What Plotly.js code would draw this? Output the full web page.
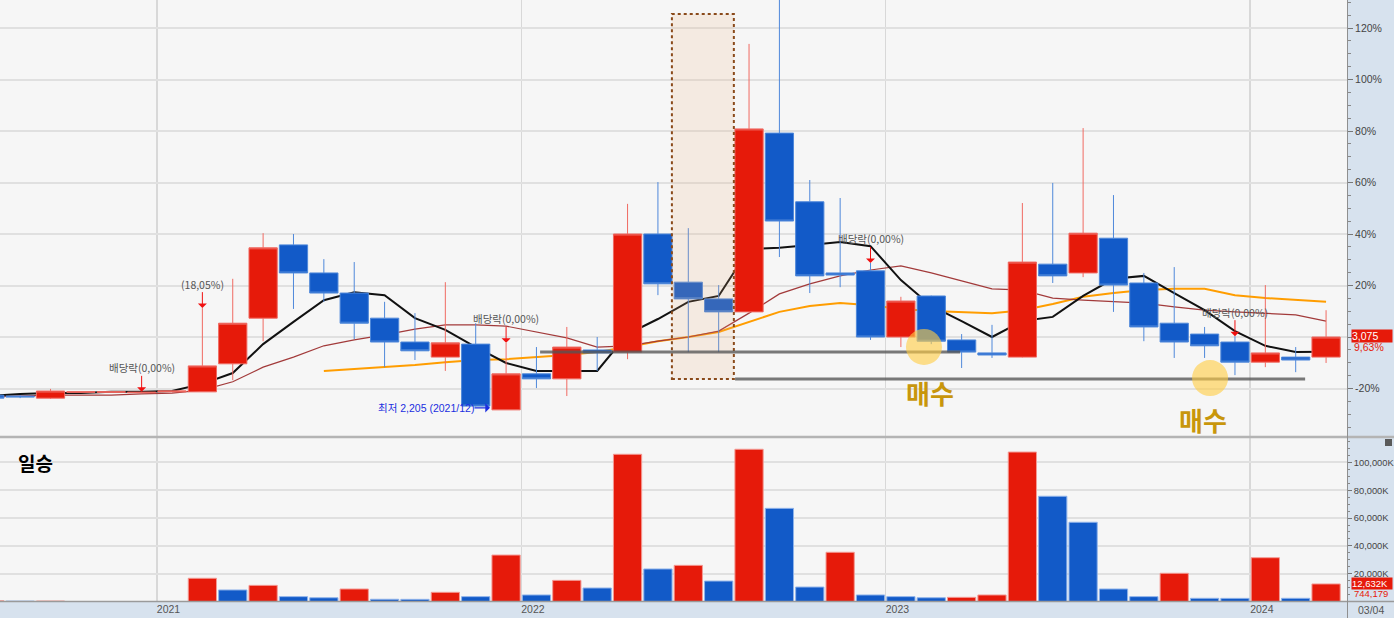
<!DOCTYPE html>
<html>
<head>
<meta charset="utf-8">
<script src="https://cdn.plot.ly/plotly-3.0.1.min.js"></script>
<style>
html,body{margin:0;padding:0;background:#d7e2ee;}
#chart{width:1394px;height:618px;}
</style>
</head>
<body>
<div id="chart"></div>
<script>
// ---------- DATA (monthly candles, KRW) ----------
const months = ['2020/07','2020/08','2020/09','2020/10','2020/11','2020/12',
  '2021/01','2021/02','2021/03','2021/04','2021/05','2021/06','2021/07','2021/08','2021/09','2021/10','2021/11','2021/12',
  '2022/01','2022/02','2022/03','2022/04','2022/05','2022/06','2022/07','2022/08','2022/09','2022/10','2022/11','2022/12',
  '2023/01','2023/02','2023/03','2023/04','2023/05','2023/06','2023/07','2023/08','2023/09','2023/10','2023/11','2023/12',
  '2024/01','2024/02','2024/03'];
const openPrices  = [2380,2370,2345,2415,2415,2410, 2420,2420,2755,3300,4175,3840,3600,3300,3015,2835,2990,2205,
  2635,2575,2920,2895,4305,3730,3530,3375,5510,4690,3840,3865, 3075,3565,3040,2885,2835,3945,3840,4255,3720,3240,3110,3015, 2775,2835,2835];
const highPrices  = [2405,2380,2455,2425,2420,2420, 2430,3420,3770,4315,4305,4005,3970,3495,3360,3730,3240,3005,
  2955,3195,3075,4665,4925,4375,3695,6575,7250,4950,4735,3960, 3555,3570,3110,3220,4675,4915,5570,4770,3840,3910,3195,3085, 3695,2955,3395];
const lowPrices   = [2335,2345,2335,2410,2415,2405, 2420,2420,2560,3025,3410,3495,3050,2715,2800,2670,2245,2205,
  2465,2370,2670,2810,3575,2895,2895,3370,4030,3600,3670,3040, 2955,2990,2705,2825,2830,3720,3790,3375,3025,2825,2825,2620, 2715,2655,2765];
const closePrices = [2345,2360,2430,2420,2420,2415, 2430,2730,3240,4140,3840,3600,3240,3015,2910,3005,2250,2635,
  2575,2955,2885,4305,3710,3530,3375,5560,4460,3805,3815,3075, 3505,3025,2895,2860,3970,3805,4315,3695,3195,3015,2970,2775, 2885,2800,3075];
// volume, thousands of shares
const volumesK = [450,300,350,0,0,0, 0,16700,8300,11600,3500,2700,9000,1600,1550,6600,3500,33400,
  4700,15200,9700,105900,23400,26000,14700,109500,67000,10400,35400,4700, 3500,2700,3000,4700,107500,75700,57000,9000,3500,20300,2300,2250, 31500,2300,12632];
// moving averages
const ma5  = [2370,2395,2405,2405,2420,2420, 2430,2515,2645,2990,3255,3515,3610,3575,3300,3160,2955,2765,
  2670,2670,2670,3110,3290,3495,3565,4125,4140,4175,4210,4160, 3755,3445,3265,3075,3265,3315,3565,3770,3805,3600,3395,3145, 2970,2895,2900];
const ma10 = [2360,2370,2380,2380,2380,2395, 2405,2440,2540,2715,2835,2970,3040,3100,3170,3220,3220,3205,
  3135,3065,2955,2970,3025,3075,3145,3360,3590,3710,3805,3875, 3925,3840,3745,3650,3635,3540,3515,3495,3480,3435,3395,3375, 3360,3340,3265];
const maLong = [null,null,null,null,null,null, null,null,null,null,null,2670,2695,2715,2740,2775,2800,2810,
  2835,2860,2895,2955,3025,3075,3135,3255,3375,3445,3480,3455, 3410,3385,3375,3360,3395,3470,3555,3600,3635,3650,3650,3575, 3540,3515,3495];
const basePrice = 3075;              // the % axis is relative to this price
const pctTicks = [-20,0,20,40,60,80,100,120];
const volTicks = [20000,40000,60000,80000,100000];
const eventMonths = ['2020/12','2021/02','2021/12','2022/12','2023/12'];
const eventLabels = ['배당락(0,00%)','(18,05%)','배당락(0,00%)','배당락(0,00%)','배당락(0,00%)'];
const lowMonth = '2021/12';
const lowLabel = '최저 2,205 (2021/12)';
const dayChangeLabel = '9,63%';
const amountLabel = '744,179';
const dateLabel = '03/04';

// ---------- BUILD ----------
const xs = months.map((m,i)=>i);
const RED='#e61a0a', BLUE='#125ac8';
const fontKo = 'Noto Sans CJK KR, Liberation Sans, sans-serif';
const fontNum = 'Liberation Sans, Noto Sans CJK KR, sans-serif';

const yearIdx = months.map((m,i)=>m.endsWith('/01')?i:null).filter(v=>v!==null);
const volColors = volumesK.map((v,i)=> (i===0 || v>volumesK[i-1]) ? RED : BLUE);
const volLine = volColors.map(c=> c===RED ? '#f49a94' : '#8fb3ea');
const yRange = [1892.8,7099.5];

const traces = [
  {type:'scatter', mode:'lines', x:xs, y:maLong, line:{color:'#ff9d00', width:2}, hoverinfo:'skip', xaxis:'x', yaxis:'y'},
  {type:'scatter', mode:'lines', x:xs, y:ma10, line:{color:'#a23a3a', width:1.2}, hoverinfo:'skip', xaxis:'x', yaxis:'y'},
  {type:'scatter', mode:'lines', x:xs, y:ma5, line:{color:'#111111', width:2}, hoverinfo:'skip', xaxis:'x', yaxis:'y'},
  {type:'candlestick', x:xs, open:openPrices, high:highPrices, low:lowPrices, close:closePrices,
   xaxis:'x', yaxis:'y3', whiskerwidth:0, hoverinfo:'skip',
   increasing:{fillcolor:RED, line:{color:'#f06a62', width:1}},
   decreasing:{fillcolor:BLUE, line:{color:'#4f88da', width:1}}},
  {type:'bar', x:xs, y:volumesK, xaxis:'x', yaxis:'y2', hoverinfo:'skip',
   marker:{color:volColors, line:{color:volLine, width:1}}}
];

const last = months.length-1;
const annotations = [];
eventMonths.forEach((m,k)=>{
  const i = months.indexOf(m);
  annotations.push({x:i, y:highPrices[i], xref:'x', yref:'y', text:eventLabels[k],
    showarrow:true, arrowhead:1, arrowsize:1.5, arrowwidth:1, arrowcolor:'#f01010', ax:0, ay:-24, standoff:0,
    font:{family:fontKo, size:10.5, color:'#555'}, borderpad:0});
});
const li = months.indexOf(lowMonth);
annotations.push({x:li-0.53, y:lowPrices[li], xref:'x', yref:'y', yshift:2, text:lowLabel,
  showarrow:true, arrowhead:1, arrowsize:1.3, arrowwidth:1.2, arrowcolor:'#1a2ee0', ax:-64, ay:0, standoff:0,
  font:{family:fontNum, size:10.5, color:'#1a2ee0'}, borderpad:0});
annotations.push({x:30.96, y:2418, xref:'x', yref:'y', text:'<b>매수</b>', showarrow:false,
  font:{family:fontKo, size:26, color:'#c8960c'}});
annotations.push({x:39.95, y:2084, xref:'x', yref:'y', text:'<b>매수</b>', showarrow:false,
  font:{family:fontKo, size:26, color:'#c8960c'}});
annotations.push({x:16/1394, y:(618-462)/618, xref:'paper', yref:'paper', xanchor:'left', yanchor:'middle',
  text:'<b>일승</b>', showarrow:false, font:{family:fontKo, size:19, color:'#000'}});
annotations.push({x:1351/1394, y:closePrices[last], xref:'paper', yref:'y', xanchor:'left', yanchor:'middle', yshift:1,
  text:closePrices[last].toLocaleString('en-US'), width:40, align:'left', showarrow:false, bgcolor:RED, borderpad:0,
  font:{family:fontNum, size:10.5, color:'#fff'}});
annotations.push({x:1352/1394, y:closePrices[last], xref:'paper', yref:'y', xanchor:'left', yanchor:'middle', yshift:-10,
  text:dayChangeLabel, showarrow:false, font:{family:fontNum, size:10.5, color:RED}});
annotations.push({x:1351/1394, y:volumesK[last], xref:'paper', yref:'y2', xanchor:'left', yanchor:'middle', yshift:0,
  text:volumesK[last].toLocaleString('en-US')+'K', width:40, align:'left', showarrow:false, bgcolor:RED, borderpad:0,
  font:{family:fontNum, size:9.5, color:'#fff'}});
annotations.push({x:1352/1394, y:volumesK[last], xref:'paper', yref:'y2', xanchor:'left', yanchor:'middle', yshift:-10,
  text:amountLabel, showarrow:false, font:{family:fontNum, size:9.5, color:RED}});
annotations.push({x:1356/1394, y:(618-610)/618, xref:'paper', yref:'paper', xanchor:'left', yanchor:'middle',
  text:dateLabel, showarrow:false, font:{family:fontNum, size:10.5, color:'#555'}});

const shapes = [
  {type:'rect', xref:'x', yref:'y', x0:22.46, x1:24.5, y0:2574, y1:6932, layer:'above',
   fillcolor:'rgba(236,176,120,0.16)', line:{color:'#8a4a1a', width:2, dash:'dot'}},
  {type:'line', xref:'x', yref:'y', x0:18.12, x1:31.95, y0:2896, y1:2896, layer:'above',
   line:{color:'rgba(85,85,85,0.78)', width:3}},
  {type:'line', xref:'x', yref:'y', x0:24.54, x1:43.31, y0:2574, y1:2574, layer:'above',
   line:{color:'rgba(85,85,85,0.78)', width:3}},
  {type:'circle', xref:'x', yref:'y', xsizemode:'pixel', ysizemode:'pixel', xanchor:30.76, yanchor:2956,
   x0:-18, x1:18, y0:-18, y1:18, layer:'above', fillcolor:'rgba(255,205,70,0.62)', line:{width:0}},
  {type:'circle', xref:'x', yref:'y', xsizemode:'pixel', ysizemode:'pixel', xanchor:40.18, yanchor:2585,
   x0:-18, x1:18, y0:-18, y1:18, layer:'above', fillcolor:'rgba(255,205,70,0.62)', line:{width:0}},
  // panel separator, bottom line, right axis line
  {type:'line', xref:'paper', yref:'paper', x0:0, x1:1, y0:(618-437)/618, y1:(618-437)/618, line:{color:'#b4b4b4', width:2.5}},
  {type:'line', xref:'paper', yref:'paper', x0:0, x1:1, y0:(618-601.5)/618, y1:(618-601.5)/618, line:{color:'#9a9a9a', width:1.5}},
  {type:'line', xref:'paper', yref:'paper', x0:1347.5/1394, x1:1347.5/1394, y0:0, y1:1, line:{color:'#8f8f8f', width:1}},
  {type:'rect', xref:'paper', yref:'paper', x0:1385/1394, x1:1392/1394, y0:(618-446)/618, y1:(618-439)/618,
   fillcolor:'#5a5a5a', line:{width:0}}
];

const layout = {
  width:1394, height:618,
  margin:{l:0, r:0, t:0, b:0, pad:0},
  paper_bgcolor:'#d7e2ee', plot_bgcolor:'#f6f6f6',
  showlegend:false, boxgap:0.07, boxgroupgap:0, bargap:0.07,
  xaxis:{domain:[0,1347/1394], range:[0.3365,44.689], anchor:'y2',
    tickmode:'array', tickvals:yearIdx.map(i=>i-0.5), ticktext:yearIdx.map(i=>months[i].slice(0,4)),
    ticklabelposition:'outside right', ticks:'', showgrid:true, gridcolor:'#d8d8d8', gridwidth:1.5,
    zeroline:false, showline:false, tickfont:{family:fontNum, size:10.5, color:'#555'},
    rangeslider:{visible:false}, fixedrange:true},
  yaxis:{domain:[182/618,1], range:yRange, side:'right', anchor:'x',
    tickmode:'array', tickvals:pctTicks.map(p=>basePrice*(1+p/100)), ticktext:pctTicks.map(p=>p===0?'':p+'%'),
    ticks:'outside', ticklen:5, tickcolor:'#777', showgrid:true, gridcolor:'#e0e0e0', gridwidth:2,
    minor:{tick0:basePrice, dtick:basePrice*0.05, ticks:'outside', ticklen:3, tickcolor:'#888', showgrid:false},
    zeroline:false, showline:false, tickfont:{family:fontNum, size:10.5, color:'#444'}, fixedrange:true},
  yaxis3:{overlaying:'y', range:yRange, side:'right', anchor:'x', visible:false, showgrid:false, zeroline:false, fixedrange:true},
  yaxis2:{domain:[16.5/618,180/618], range:[0,117600], side:'right', anchor:'x',
    tickmode:'array', tickvals:volTicks, ticktext:volTicks.map(v=>v.toLocaleString('en-US')+'K'),
    ticks:'outside', ticklen:4, tickcolor:'#777', showgrid:true, gridcolor:'#e0e0e0', gridwidth:2,
    minor:{tick0:0, dtick:5000, ticks:'outside', ticklen:2, tickcolor:'#888', showgrid:false},
    zeroline:false, showline:false, tickfont:{family:fontNum, size:9.3, color:'#444'}, fixedrange:true},
  annotations:annotations,
  shapes:shapes
};

Plotly.newPlot('chart', traces, layout, {staticPlot:true, displayModeBar:false});
</script>
</body>
</html>
